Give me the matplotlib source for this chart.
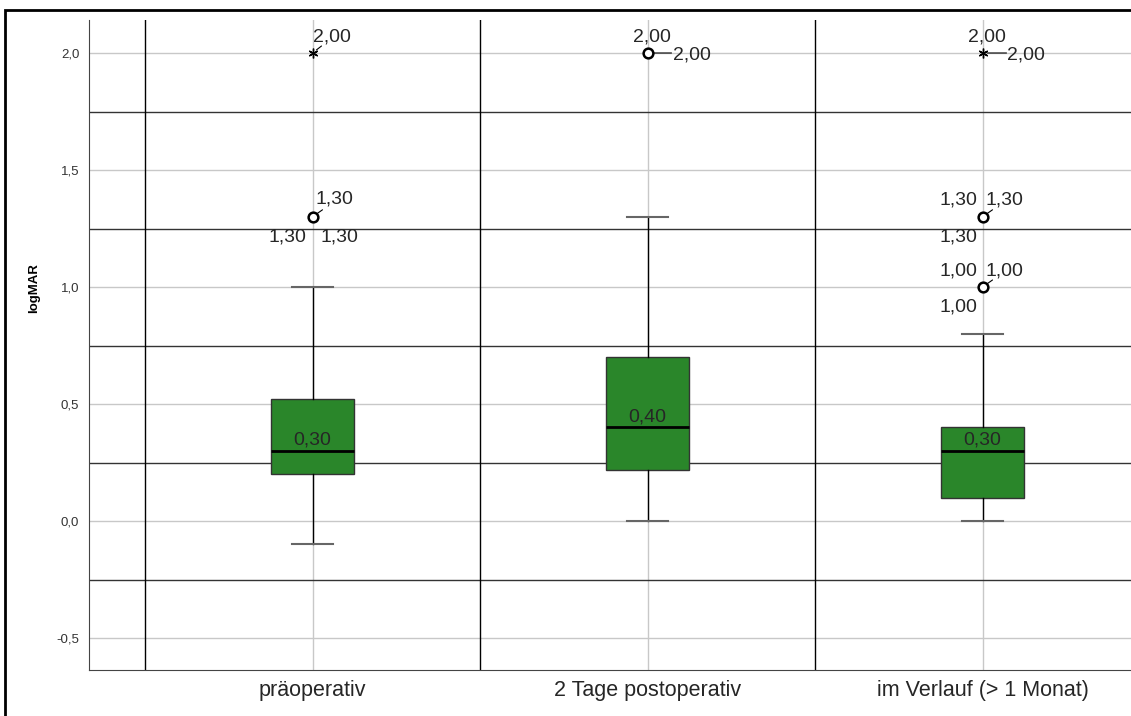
import matplotlib
matplotlib.use("Agg")
import matplotlib.pyplot as plt
from matplotlib.patches import Rectangle

plt.rcParams['font.family'] = ['Liberation Sans', 'DejaVu Sans']

# data
categories = ['präoperativ', '2 Tage postoperativ', 'im Verlauf (> 1 Monat)']
q1 = [0.20, 0.22, 0.10]
medians = [0.30, 0.40, 0.30]
q3 = [0.52, 0.70, 0.40]
whislo = [-0.10, 0.00, 0.00]
whishi = [1.00, 1.30, 0.80]
outliers = [[1.30], [2.00], [1.30, 1.00]]   # circles
extremes = [[2.00], [], [2.00]]             # stars
yticks = [-0.5, 0.0, 0.5, 1.0, 1.5, 2.0]
ytick_labels = ['-0,5', '0,0', '0,5', '1,0', '1,5', '2,0']

# case labels next to outliers: (group, value, dx, dy, ha, leader end or None) in pixels
label_layout = [
    (0, 2.00, 1, 11, 'left', (9, 7)),
    (0, 1.30, 3, 13, 'left', (10, 7)),
    (0, 1.30, -6, -25, 'right', None),
    (0, 1.30, 8, -25, 'left', None),
    (1, 2.00, 4, 11, 'center', None),
    (1, 2.00, 25, -7, 'left', (24, 0)),
    (2, 2.00, 4, 11, 'center', None),
    (2, 2.00, 25, -7, 'left', (24, 0)),
    (2, 1.30, -5, 12, 'right', None),
    (2, 1.30, 3, 12, 'left', (10, 7)),
    (2, 1.30, -5, -25, 'right', None),
    (2, 1.00, -5, 12, 'right', None),
    (2, 1.00, 3, 12, 'left', (10, 7)),
    (2, 1.00, -5, -25, 'right', None),
]


def de(v):
    return f"{v:.2f}".replace('.', ',')


W, H = 1131, 716
fig = plt.figure(figsize=(W / 100, H / 100), dpi=100)
fig.add_artist(Rectangle((5 / W, -0.1), 2, 1.1 - 10 / H, transform=fig.transFigure,
                         fill=False, lw=2, ec='black'))
ax = fig.add_axes([89 / W, 1 - 670 / H, 1 - 89 / W, 650 / H])

pos = list(range(len(categories)))
stats = []
for i in pos:
    stats.append(dict(med=medians[i], q1=q1[i], q3=q3[i], whislo=whislo[i],
                      whishi=whishi[i], fliers=[]))

ax.bxp(stats, positions=pos, widths=0.25, capwidths=0.12, patch_artist=True,
       showfliers=False, zorder=3,
       boxprops=dict(facecolor='#2a862a', edgecolor='#333333', lw=1),
       medianprops=dict(color='black', lw=2),
       whiskerprops=dict(color='black', lw=1),
       capprops=dict(color='#666666', lw=1.5))

for i in pos:
    if outliers[i]:
        ax.plot([i] * len(outliers[i]), outliers[i], ls='none', marker='o', ms=7,
                mfc='white', mec='black', mew=1.8, zorder=5)
    if extremes[i]:
        ax.plot([i] * len(extremes[i]), extremes[i], ls='none', marker=(6, 2, 0), ms=7,
                color='black', mew=1, zorder=5)
    ax.annotate(de(medians[i]), (i, medians[i]), xytext=(0, 6), textcoords='offset pixels',
                ha='center', va='baseline', fontsize=14, color='#262626', zorder=6)

for g, v, dx, dy, ha, lead in label_layout:
    ax.annotate(de(v), (g, v), xytext=(dx, dy), textcoords='offset pixels',
                ha=ha, va='baseline', fontsize=14, color='#262626', zorder=6)
    if lead is not None:
        ax.annotate('', (g, v), xytext=lead, textcoords='offset pixels',
                    arrowprops=dict(arrowstyle='-', color='black', lw=0.8,
                                    shrinkA=0, shrinkB=3.5))

# SPSS style grid: light lines at ticks, dark lines in between
ax.set_axisbelow(True)
ax.grid(True, color='#c8c8c8', lw=1)
for y in [-0.25, 0.25, 0.75, 1.25, 1.75]:
    ax.axhline(y, color='#333333', lw=1, zorder=1)
for x in [-0.5, 0.5, 1.5]:
    ax.axvline(x, color='black', lw=1, zorder=1)

ax.set_xlim(-0.5 - 56 / 335, -0.5 + 986 / 335)
ax.set_ylim(-149 / 234, 501 / 234)
ax.set_xticks(pos)
ax.set_xticklabels(categories, fontsize=15.5, color='#262626')
ax.set_yticks(yticks)
ax.set_yticklabels(ytick_labels, fontsize=9.5, color='#333333')
ax.tick_params(length=0)
ax.tick_params(axis='y', pad=7)
ax.tick_params(axis='x', pad=7)
for s in ['top', 'right']:
    ax.spines[s].set_visible(False)
for s in ['left', 'bottom']:
    ax.spines[s].set_color('#444444')

fig.text(34 / W, 1 - 288 / H, 'logMAR', rotation=90, ha='center', va='center',
         fontsize=9.5, fontweight='bold')

plt.savefig('out.png', dpi=100)
